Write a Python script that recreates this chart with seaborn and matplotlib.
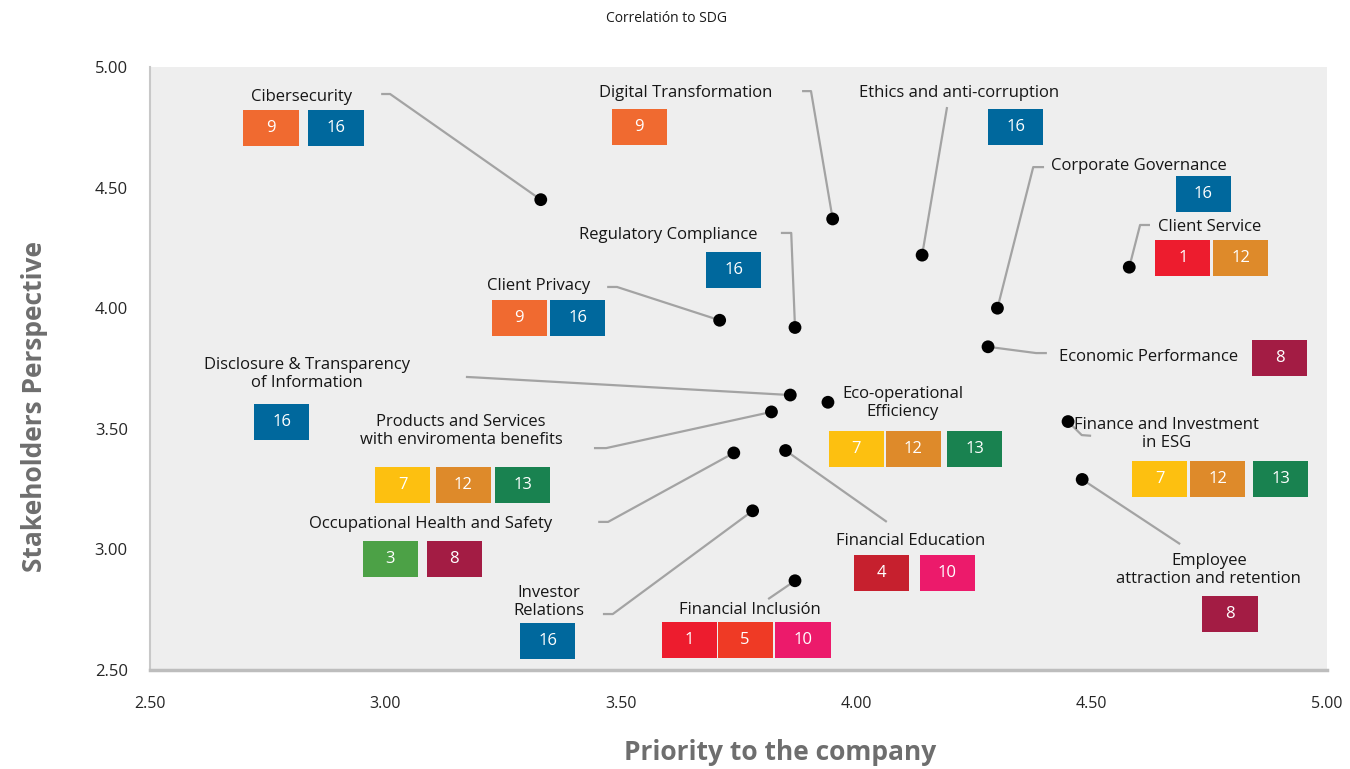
import matplotlib
matplotlib.use("Agg")
import matplotlib.pyplot as plt
from matplotlib.patches import Rectangle
import pandas as pd
import seaborn as sns

# ---- data -------------------------------------------------------------
topics = [
    "Cibersecurity", "Digital Transformation", "Ethics and anti-corruption",
    "Corporate Governance", "Client Service", "Regulatory Compliance",
    "Client Privacy", "Economic Performance",
    "Disclosure & Transparency\nof Information", "Eco-operational\nEfficiency",
    "Finance and Investment\nin ESG", "Products and Services\nwith enviromenta benefits",
    "Occupational Health and Safety", "Financial Education",
    "Employee\nattraction and retention", "Investor\nRelations", "Financial Inclusión",
]
priority = [3.33, 3.95, 4.14, 4.30, 4.58, 3.87, 3.71, 4.28, 3.86, 3.94,
            4.45, 3.82, 3.74, 3.85, 4.48, 3.78, 3.87]
stakeholder = [4.45, 4.37, 4.22, 4.00, 4.17, 3.92, 3.95, 3.84, 3.64, 3.61,
               3.53, 3.57, 3.40, 3.41, 3.29, 3.16, 2.87]
sdgs = [[9, 16], [9], [16], [16], [1, 12], [16], [9, 16], [8], [16], [7, 12, 13],
        [7, 12, 13], [7, 12, 13], [3, 8], [4, 10], [8], [16], [1, 5, 10]]

sdg_colors = {
    1: "#ED1C2E", 3: "#4CA146", 4: "#C6202E", 5: "#EF3A25", 7: "#FDC010",
    8: "#A31C44", 9: "#F06A30", 10: "#EC1A6B", 12: "#DE8A2A", 13: "#198250",
    16: "#00689D",
}

# ---- annotation layout (label centre, box row, leader waypoints) -------
layout = {
    "Cibersecurity": dict(label=(2.821, 4.876), boxes=([2.757, 2.895], 4.747),
                          path=[(2.991, 4.888), (3.010, 4.888)]),
    "Digital Transformation": dict(label=(3.638, 4.892), boxes=([3.539], 4.751),
                                   path=[(3.885, 4.900), (3.904, 4.900)]),
    "Ethics and anti-corruption": dict(label=(4.218, 4.892), boxes=([4.339], 4.751),
                                       path=[(4.193, 4.834)]),
    "Corporate Governance": dict(label=(4.601, 4.590), boxes=([4.737], 4.473),
                                 path=[(4.399, 4.585), (4.376, 4.585)]),
    "Client Service": dict(label=(4.751, 4.337), boxes=([4.694, 4.817], 4.208),
                           path=[(4.624, 4.345), (4.603, 4.345)]),
    "Regulatory Compliance": dict(label=(3.600, 4.303), boxes=([3.740], 4.158),
                                  path=[(3.840, 4.312), (3.862, 4.312)]),
    "Client Privacy": dict(label=(3.326, 4.092), boxes=([3.284, 3.409], 3.959),
                           path=[(3.471, 4.088), (3.492, 4.088)]),
    "Economic Performance": dict(label=(4.620, 3.798), boxes=([4.900], 3.794),
                                 path=[(4.405, 3.814), (4.382, 3.814)]),
    "Disclosure & Transparency\nof Information": dict(
        label=(2.833, 3.727), boxes=([2.780], 3.528),
        path=[(3.171, 3.715), (3.192, 3.713)]),
    "Eco-operational\nEfficiency": dict(label=(4.099, 3.607),
                                        boxes=([4.000, 4.121, 4.252], 3.416), path=None),
    "Finance and Investment\nin ESG": dict(label=(4.660, 3.478),
                                           boxes=([4.645, 4.768, 4.902], 3.292),
                                           path=[(4.499, 3.471), (4.479, 3.474)]),
    "Products and Services\nwith enviromenta benefits": dict(
        label=(3.161, 3.491), boxes=([3.037, 3.165, 3.292], 3.267),
        path=[(3.443, 3.420), (3.469, 3.420)]),
    "Occupational Health and Safety": dict(label=(3.097, 3.105),
                                           boxes=([3.010, 3.146], 2.960),
                                           path=[(3.452, 3.114), (3.473, 3.114)]),
    "Financial Education": dict(label=(4.116, 3.035), boxes=([4.053, 4.193], 2.902),
                                path=[(4.065, 3.114)]),
    "Employee\nattraction and retention": dict(label=(4.749, 2.915),
                                               boxes=([4.794], 2.732),
                                               path=[(4.688, 3.022)]),
    "Investor\nRelations": dict(label=(3.347, 2.782), boxes=([3.345], 2.620),
                                path=[(3.462, 2.732), (3.483, 2.732)]),
    "Financial Inclusión": dict(label=(3.774, 2.749), boxes=([3.645, 3.764, 3.887], 2.624),
                                path=[(3.813, 2.794)]),
}

x_ticks = [2.5, 3.0, 3.5, 4.0, 4.5, 5.0]
y_ticks = [2.5, 3.0, 3.5, 4.0, 4.5, 5.0]

# ---- styling ----------------------------------------------------------
sns.set_theme(style="white")
plt.rcParams["font.family"] = ["Open Sans", "DejaVu Sans"]

df = pd.DataFrame({"topic": topics, "priority": priority, "stakeholder": stakeholder})

fig = plt.figure(figsize=(13.5, 7.69), dpi=100)
ax = fig.add_axes([150 / 1350, 99 / 769, 1177 / 1350, 603 / 769])
ax.set_facecolor("#EEEEEE")

BOX_W, BOX_H = 0.117, 0.149
LINE_C = "#A3A3A3"

for topic, px, py, goals in zip(topics, priority, stakeholder, sdgs):
    spec = layout[topic]
    lx, ly = spec["label"]
    ax.text(lx, ly, topic, ha="center", va="center", fontsize=12,
            color="#161616", linespacing=1.15, zorder=4)
    xs, by = spec["boxes"]
    for bx, goal in zip(xs, goals):
        ax.add_patch(Rectangle((bx - BOX_W / 2, by - BOX_H / 2), BOX_W, BOX_H,
                               facecolor=sdg_colors[goal], edgecolor="none", zorder=3))
        ax.text(bx, by, str(goal), ha="center", va="center", fontsize=12,
                color="white", zorder=4)
    if spec["path"]:
        pts = spec["path"] + [(px, py)]
        ax.plot([p[0] for p in pts], [p[1] for p in pts], color=LINE_C,
                lw=1.6, zorder=2, solid_capstyle="butt")

sns.scatterplot(data=df, x="priority", y="stakeholder", color="black", s=85,
                edgecolor="none", ax=ax, zorder=5, legend=False)

ax.set_xlim(2.5, 5.0)
ax.set_ylim(2.5, 5.0)
ax.set_xticks(x_ticks)
ax.set_yticks(y_ticks)
ax.set_xticklabels([f"{v:.2f}" for v in x_ticks], fontsize=11.5)
ax.set_yticklabels([f"{v:.2f}" for v in y_ticks], fontsize=12)
ax.tick_params(axis="x", length=0, pad=19)
ax.tick_params(axis="y", length=0, pad=16)
ax.set_xlabel("")
ax.set_ylabel("")

for side in ("top", "right"):
    ax.spines[side].set_visible(False)
ax.spines["left"].set_color("#C8C8C8")
ax.spines["left"].set_linewidth(1.5)
ax.spines["bottom"].set_color("#BDBDBD")
ax.spines["bottom"].set_linewidth(2.5)

fig.text(780 / 1350, 1 - 753 / 769, "Priority to the company", ha="center",
         va="center", fontsize=19, fontweight="bold", color="#6E6E6E")
fig.text(35 / 1350, 1 - 406 / 769, "Stakeholders Perspective", ha="center",
         va="center", rotation=90, fontsize=19, fontweight="bold", color="#6E6E6E")
fig.text(666 / 1350, 1 - 19 / 769, "Correlatión to SDG", ha="center", va="center",
         fontsize=10, color="#1A1A1A")

fig.savefig("out.png", dpi=100)
